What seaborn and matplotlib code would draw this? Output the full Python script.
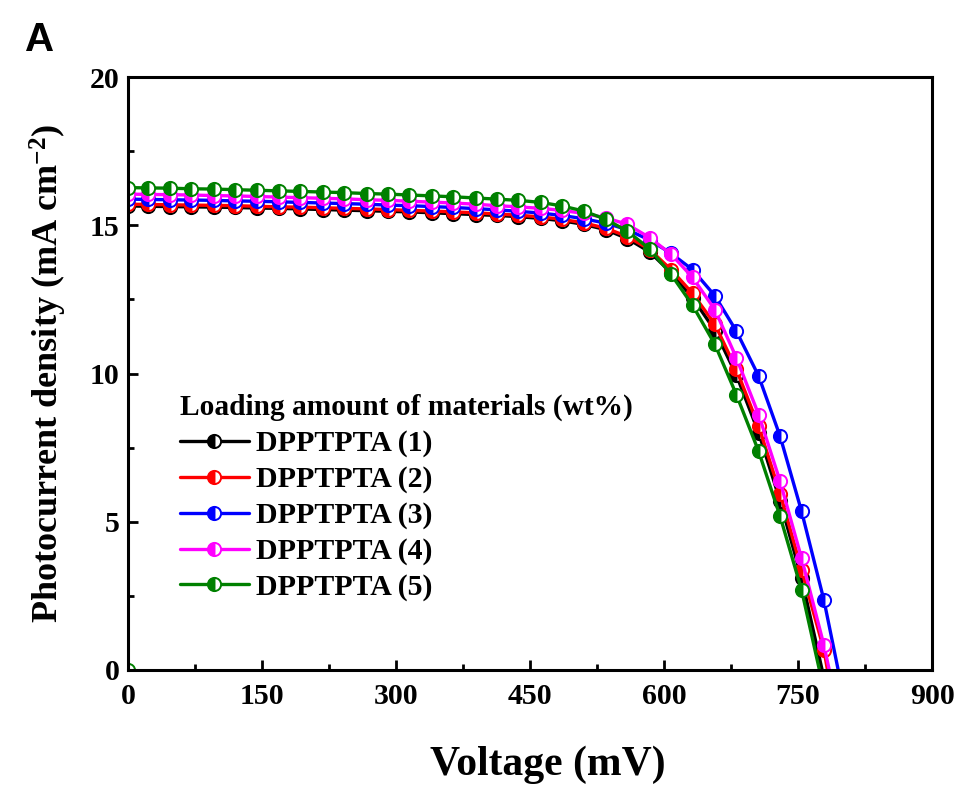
import matplotlib
matplotlib.use("Agg")
import matplotlib.pyplot as plt
import seaborn as sns
import numpy as np
import pandas as pd
from matplotlib.ticker import MultipleLocator

# ---- data ----
voltage = [0, 22, 47, 71, 96, 120, 144, 169, 193, 218, 242, 267, 291, 315, 340, 364,
           389, 413, 437, 462, 486, 510, 535, 559, 584, 608, 632, 657, 681, 706, 730, 754, 779]

j_1 = [15.65, 15.64, 15.63, 15.62, 15.61, 15.60, 15.58, 15.57, 15.55, 15.53, 15.51, 15.49,
       15.47, 15.45, 15.42, 15.39, 15.36, 15.33, 15.29, 15.23, 15.15, 15.03, 14.85, 14.55,
       14.10, 13.40, 12.55, 11.45, 9.95, 8.00, 5.70, 3.10]
j_2 = [15.71, 15.70, 15.69, 15.68, 15.67, 15.66, 15.64, 15.62, 15.61, 15.59, 15.57, 15.55,
       15.53, 15.50, 15.48, 15.45, 15.42, 15.38, 15.34, 15.28, 15.20, 15.08, 14.90, 14.62,
       14.18, 13.50, 12.70, 11.66, 10.14, 8.22, 5.95, 3.38, 0.68]
j_3 = [15.88, 15.87, 15.86, 15.85, 15.84, 15.82, 15.81, 15.79, 15.77, 15.75, 15.73, 15.71,
       15.68, 15.66, 15.63, 15.60, 15.56, 15.52, 15.47, 15.41, 15.33, 15.22, 15.07, 14.85,
       14.50, 14.05, 13.50, 12.62, 11.43, 9.91, 7.88, 5.35, 2.36]
j_4 = [16.05, 16.04, 16.03, 16.02, 16.00, 15.99, 15.97, 15.95, 15.93, 15.91, 15.89, 15.86,
       15.84, 15.81, 15.78, 15.75, 15.71, 15.66, 15.62, 15.57, 15.50, 15.40, 15.25, 15.03,
       14.58, 14.02, 13.24, 12.15, 10.53, 8.61, 6.36, 3.77, 0.84]
j_5 = [16.27, 16.26, 16.25, 16.23, 16.22, 16.20, 16.18, 16.16, 16.14, 16.12, 16.10, 16.07,
       16.05, 16.02, 15.99, 15.96, 15.92, 15.88, 15.84, 15.77, 15.65, 15.48, 15.20, 14.80,
       14.20, 13.34, 12.30, 10.98, 9.29, 7.37, 5.18, 2.70]
voc = [777, 783, 795, 785, 774]          # open-circuit voltage (J = 0)

labels = ["DPPTPTA (1)", "DPPTPTA (2)", "DPPTPTA (3)", "DPPTPTA (4)", "DPPTPTA (5)"]
colors = ["#000000", "#ff0000", "#0000ff", "#ff00ff", "#008000"]
x_ticks = [0, 150, 300, 450, 600, 750, 900]
y_ticks = [0, 5, 10, 15, 20]

# ---- figure ----
sns.set_style("white")
plt.rcParams["font.family"] = ["Liberation Serif", "DejaVu Serif"]
plt.rcParams["mathtext.fontset"] = "custom"
plt.rcParams["mathtext.rm"] = "Liberation Serif:bold"
plt.rcParams["mathtext.it"] = "Liberation Serif:bold"
plt.rcParams["mathtext.bf"] = "Liberation Serif:bold"
for k in ["text.color", "axes.labelcolor", "xtick.color", "ytick.color", "axes.edgecolor"]:
    plt.rcParams[k] = "black"

fig = plt.figure(figsize=(9.61, 7.85), dpi=100)
ax = fig.add_axes([128 / 961, 1 - 670 / 785, (932 - 128) / 961, (670 - 77) / 785])

series = [j_1, j_2, j_3, j_4, j_5]
for i, (js, lab, col, vo) in enumerate(zip(series, labels, colors, voc)):
    xs = list(voltage[:len(js)]) + [vo]
    ys = list(js) + [0.0]
    if i == 4:
        xs = [0] + xs
        ys = [0.0] + ys
    df = pd.DataFrame({"V": xs, "J": ys})
    sns.lineplot(data=df, x="V", y="J", ax=ax, color=col, lw=2.4,
                 marker="o", markersize=9.5, fillstyle="left",
                 markerfacecoloralt="white", markeredgecolor=col,
                 markeredgewidth=1.4, markevery=list(range(len(xs) - 1)),
                 estimator=None, sort=False, label=lab)

ax.set_xlim(0, 900)
ax.set_ylim(0, 20)
ax.set_xticks(x_ticks)
ax.set_yticks(y_ticks)
ax.xaxis.set_minor_locator(MultipleLocator(75))
ax.yaxis.set_minor_locator(MultipleLocator(2.5))
ax.tick_params(which="both", direction="in", width=2, top=False, right=False,
               bottom=True, left=True, colors="black")
ax.tick_params(which="major", length=7, labelsize=21.5)
ax.tick_params(axis="y", which="major", pad=6)
ax.tick_params(axis="x", which="major", pad=9)
ax.tick_params(which="minor", length=4)
for lbl in ax.get_xticklabels() + ax.get_yticklabels():
    lbl.set_fontweight("bold")
for sp in ax.spines.values():
    sp.set_linewidth(2.2)
    sp.set_color("black")

ax.set_xlabel("Voltage (mV)", fontsize=30, fontweight="bold")
ax.xaxis.set_label_coords((548 - 128) / 804, -(765 - 670) / 593)
ax.xaxis.label.set_va("center")
ax.set_ylabel(r"Photocurrent density (mA cm$^{-2}$)", fontsize=26,
              fontweight="bold", labelpad=15)

leg = ax.legend(loc="upper left", bbox_to_anchor=((180 - 128) / 804, (670 - 394) / 593),
                frameon=False, title="Loading amount of materials (wt%)",
                alignment="left", handlelength=2.3, handletextpad=0.25,
                labelspacing=0.29, borderpad=0, borderaxespad=0, numpoints=1,
                prop={"family": "Liberation Serif", "weight": "bold", "size": 21.5},
                title_fontproperties={"family": "Liberation Serif", "weight": "bold",
                                      "size": 21.2})

fig.text(25 / 961, 1 - 40 / 785, "A", fontsize=29, fontweight="bold",
         family="Liberation Sans", ha="left", va="center", color="black")

fig.savefig("out.png", dpi=100)
